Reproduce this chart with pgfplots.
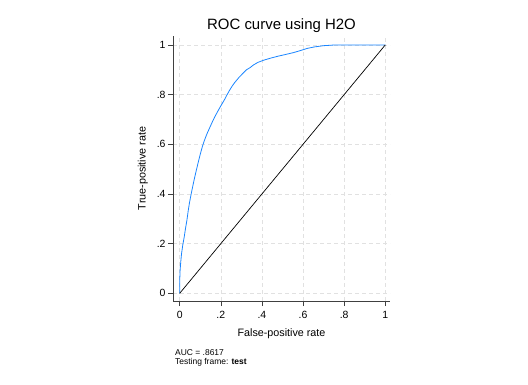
\documentclass[border=0pt]{standalone}
\usepackage{pgfplots}
\pgfplotsset{compat=1.18}
\usepackage{fontspec}
\setmainfont{Liberation Sans}
\definecolor{stcblue}{RGB}{26,133,255}
\definecolor{gridgray}{RGB}{225,225,225}
\begin{document}
\begin{tikzpicture}[x=1bp,y=1bp]
\path[use as bounding box] (0,0) rectangle (528,384);
\begin{axis}[
  at={(173bp,83bp)}, anchor=south west,
  scale only axis, width=217bp, height=265bp,
  xmin=-0.0326, xmax=1.023, ymin=-0.031, ymax=1.036,
  axis x line*=bottom, axis y line*=left,
  axis line style={line width=0.6bp, black!75},
  tick align=outside, major tick length=5bp,
  tick style={line width=0.6bp, black!75},
  xtick={0,0.2,0.4,0.6,0.8,1}, xticklabels={0,.2,.4,.6,.8,1},
  ytick={0,0.2,0.4,0.6,0.8,1}, yticklabels={0,.2,.4,.6,.8,1},
  ticklabel style={font=\fontsize{10.5}{12}\selectfont},
  xticklabel style={yshift=-1.8bp},
  yticklabel style={xshift=1bp},
  /pgf/number format/assume math mode=true,
  grid=major,
  major grid style={gridgray, line width=0.5bp, dash pattern=on 4bp off 3bp},
  title={ROC curve using H2O},
  title style={at={(axis description cs:0.5,1)}, anchor=base, yshift=1bp, font=\fontsize{15}{18}\selectfont},
  xlabel={False-positive rate},
  xlabel style={at={(axis description cs:0.5,0)}, anchor=base, yshift=-35.7bp, font=\fontsize{10.8}{13}\selectfont},
  ylabel={True-positive rate},
  ylabel style={at={([xshift=-27.3bp]axis description cs:0,0.5)}, anchor=base, font=\fontsize{10.8}{13}\selectfont},
  clip=false,
]
\addplot[stcblue, line width=0.8bp] coordinates {
(0,0) (0,0.05) (0.002,0.093) (0.005,0.126) (0.009,0.16) (0.015,0.195)
(0.022,0.227) (0.028,0.26) (0.035,0.294) (0.041,0.33) (0.047,0.362)
(0.055,0.397) (0.063,0.429) (0.071,0.46) (0.079,0.489) (0.088,0.52)
(0.1,0.56) (0.11,0.59) (0.12,0.615) (0.132,0.641) (0.145,0.665)
(0.157,0.687) (0.169,0.708) (0.182,0.728) (0.194,0.746) (0.206,0.763)
(0.218,0.78) (0.23,0.799) (0.243,0.818) (0.255,0.834) (0.267,0.848)
(0.288,0.869) (0.308,0.886) (0.325,0.9) (0.341,0.908) (0.36,0.92)
(0.381,0.93) (0.41,0.939) (0.447,0.948) (0.48,0.955) (0.512,0.961)
(0.553,0.969) (0.59,0.978) (0.62,0.986) (0.655,0.992) (0.7,0.997)
(0.757,1) (1,1)
};
\addplot[black, line width=0.7bp] coordinates {(0,0) (1,1)};
\end{axis}
\node[anchor=base west, inner sep=0pt, font=\fontsize{8.5}{10}\selectfont] at (175,28.3) {AUC = .8617};
\node[anchor=base west, inner sep=0pt, font=\fontsize{8.5}{10}\selectfont] at (175,19.7) {Testing frame: \textbf{test}};
\end{tikzpicture}
\end{document}
